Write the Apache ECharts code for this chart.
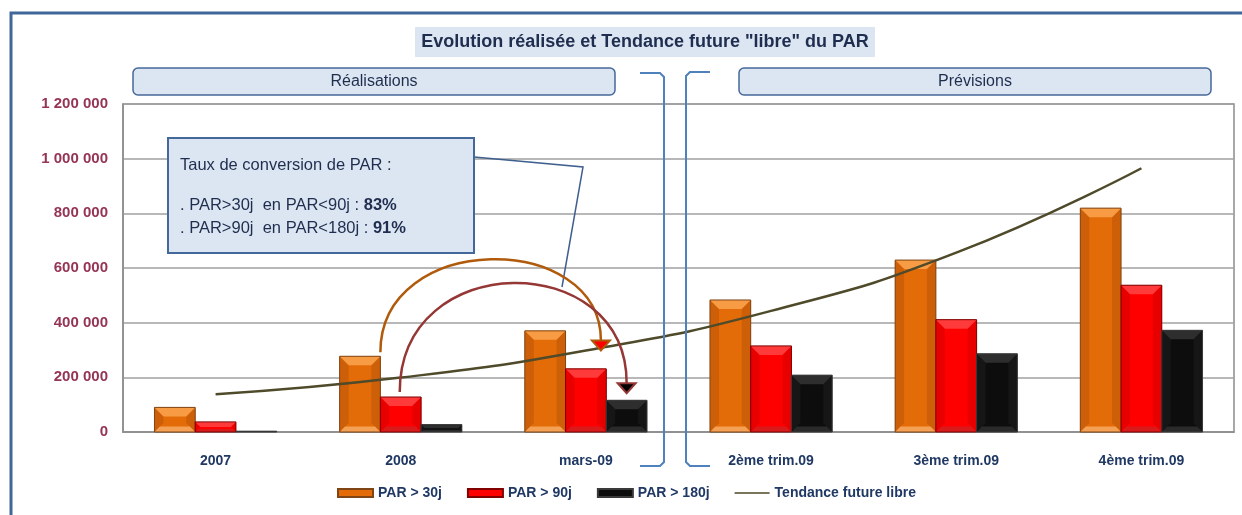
<!DOCTYPE html>
<html>
<head>
<meta charset="utf-8">
<script src="https://cdn.jsdelivr.net/npm/echarts@6/dist/echarts.min.js"></script>
<style>
html,body{margin:0;padding:0;background:#fff;}
#chart{width:1242px;height:515px;}
</style>
</head>
<body>
<div id="chart"></div>
<script>
const categories = ['2007', '2008', 'mars-09', '2ème trim.09', '3ème trim.09', '4ème trim.09'];
const par30 = [90000, 277000, 370000, 483000, 629000, 819000];
const par90 = [37000, 128000, 231000, 315000, 411000, 537000];
const par180 = [3000, 27000, 116000, 208000, 286000, 372000];
const tendance = [138000, 199000, 298000, 443000, 656000, 965000];
const seriesNames = ['PAR > 30j', 'PAR > 90j', 'PAR > 180j', 'Tendance future libre'];

const FONT = "'Liberation Sans', Arial, sans-serif";
const NAVY = '#1F3864';
const CAT_GAP = 0.34;

const palettes = [
  {body:'#E36C09', top:'#F89B45', bottom:'#F4A055', side:'#CC5F07', border:'#7F4515'},
  {body:'#FF0000', top:'#FF3A3A', bottom:'#D81A1A', side:'#E80000', border:'#800000'},
  {body:'#0D0D0D', top:'#2E2E2E', bottom:'#2A2A2A', side:'#161616', border:'#3A3A3A'}
];

function bevelRenderer(k) {
  const pal = palettes[k];
  return function (params, api) {
    const idx = api.value(0);
    const val = api.value(1);
    const base = api.coord([idx, 0]);
    const top = api.coord([idx, val]);
    const catW = api.size([1, 0])[0];
    const bw = catW * (1 - CAT_GAP) / 3;
    const x = base[0] + (k - 1.5) * bw;
    const y = top[1];
    const h = base[1] - top[1];
    const b = Math.max(0, Math.min(9, h / 2, bw / 2));
    const children = [
      {type:'rect', shape:{x:x, y:y, width:bw, height:h}, style:{fill:pal.body}},
      {type:'polygon', shape:{points:[[x,y],[x+b,y+b],[x+b,y+h-b],[x,y+h]]}, style:{fill:pal.side}},
      {type:'polygon', shape:{points:[[x+bw,y],[x+bw-b,y+b],[x+bw-b,y+h-b],[x+bw,y+h]]}, style:{fill:pal.side}},
      {type:'polygon', shape:{points:[[x,y],[x+bw,y],[x+bw-b,y+b],[x+b,y+b]]}, style:{fill:pal.top}},
      {type:'polygon', shape:{points:[[x,y+h],[x+bw,y+h],[x+bw-b*0.6,y+h-b*0.6],[x+b*0.6,y+h-b*0.6]]}, style:{fill:pal.bottom}},
      {type:'rect', shape:{x:x, y:y, width:bw, height:h}, style:{fill:'none', stroke:pal.border, lineWidth:1}}
    ];
    return {type:'group', children:children};
  };
}

const barData = [par30, par90, par180];
const chart = echarts.init(document.getElementById('chart'), null, {renderer:'canvas'});

const LINE_ICON = 'path://M0,0 h0.01 v0.01 h-0.01 Z M0,3.3 H35 V4.7 H0 Z M0,7.99 h0.01 v0.01 h-0.01 Z';

const option = {
  animation: false,
  backgroundColor: '#ffffff',
  grid: {left:123, right:8, top:104, bottom:83, show:true, borderColor:'#8C8C8C', borderWidth:1.5, backgroundColor:'transparent'},
  xAxis: {
    type:'category', data:categories, boundaryGap:true,
    axisTick:{show:false},
    axisLine:{lineStyle:{color:'#8C8C8C', width:1.5}},
    axisLabel:{margin:22, color:NAVY, fontFamily:FONT, fontWeight:'bold', fontSize:14}
  },
  yAxis: {
    type:'value', min:0, max:1200000, interval:200000,
    axisLine:{show:true, lineStyle:{color:'#8C8C8C', width:1.5}},
    axisTick:{show:false},
    splitLine:{lineStyle:{color:'#A0A0A0', width:1.5}},
    axisLabel:{margin:15, color:'#953455', fontFamily:FONT, fontWeight:'bold', fontSize:15,
      formatter: v => String(v).replace(/\B(?=(\d{3})+(?!\d))/g, ' ')}
  },
  legend: {
    left:337, top:486, padding:0, itemWidth:35, itemHeight:8, itemGap:25,
    data:[
      {name:seriesNames[0], icon:'rect'},
      {name:seriesNames[1], icon:'rect'},
      {name:seriesNames[2], icon:'rect'},
      {name:seriesNames[3], icon:LINE_ICON}
    ],
    textStyle:{color:NAVY, fontFamily:FONT, fontWeight:'bold', fontSize:14}
  },
  series: [
    ...barData.map((arr, k) => ({
      name: seriesNames[k], type:'custom', renderItem: bevelRenderer(k),
      itemStyle:{color:palettes[k].body, borderColor:palettes[k].border, borderWidth:1},
      encode:{x:0, y:1},
      data: arr.map((v, i) => [i, v]),
      z: 2
    })),
    {
      name: seriesNames[3], type:'line', data:tendance, smooth:true, symbol:'none', showSymbol:false,
      lineStyle:{color:'#4F4A2A', width:2.5}, itemStyle:{color:'#4F4A2A'}, z:5
    }
  ]
};
chart.setOption(option);

// annotations anchored on the data
const px = (i, v) => chart.convertToPixel({gridIndex:0}, [i, v]);
const c2008 = px(1, par30[1]);
const cMars = px(2, par30[2]);
const catW = cMars[0] - c2008[0];
const bw = catW * (1 - CAT_GAP) / 3;

const oStart = [c2008[0] - 0.5 * bw, c2008[1] - 4];
const oTip = [cMars[0] + 15, px(2, tendance[2])[1]];
const rStart = [c2008[0] - 1, px(1, par90[1])[1] - 5];
const rTip = [cMars[0] + bw, px(2, par180[2])[1] - 7];
const headH = 10, headW = 9;

function arc(start, tip, lift, color) {
  const endY = tip[1] - headH;
  return {
    type:'bezierCurve', z:100,
    shape:{x1:start[0], y1:start[1], cpx1:start[0], cpy1:start[1] - lift, cpx2:tip[0], cpy2:start[1] - lift, x2:tip[0], y2:endY},
    style:{stroke:color, lineWidth:2.5, fill:'none'}
  };
}
function head(tip, fill, stroke) {
  return {
    type:'polygon', z:101,
    shape:{points:[[tip[0]-headW, tip[1]-headH],[tip[0]+headW, tip[1]-headH],[tip[0], tip[1]]]},
    style:{fill:fill, stroke:stroke, lineWidth:2}
  };
}

const BOXFILL = '#DCE6F2';
const BOXSTROKE = '#45689A';
const TXT = '#1F2D4E';
const BRACKET = '#4F81BD';

chart.setOption({
  graphic: [
    // outer frame
    {type:'rect', z:200, shape:{x:11, y:13, width:1320, height:620}, style:{fill:'none', stroke:'#41669A', lineWidth:3}},
    // title
    {type:'rect', z:100, shape:{x:415, y:27, width:460, height:30}, style:{fill:BOXFILL}},
    {type:'text', z:101, x:645, y:42, style:{text:'Evolution réalisée et Tendance future "libre" du PAR', font:"bold 18px " + FONT, fill:TXT, align:'center', verticalAlign:'middle'}},
    // section headers
    {type:'rect', z:100, shape:{x:133, y:68, width:482, height:27, r:5}, style:{fill:BOXFILL, stroke:BOXSTROKE, lineWidth:1.5}},
    {type:'text', z:101, x:374, y:82, style:{text:'Réalisations', font:"16px " + FONT, fill:TXT, align:'center', verticalAlign:'middle'}},
    {type:'rect', z:100, shape:{x:739, y:68, width:472, height:27, r:5}, style:{fill:BOXFILL, stroke:BOXSTROKE, lineWidth:1.5}},
    {type:'text', z:101, x:975, y:82, style:{text:'Prévisions', font:"16px " + FONT, fill:TXT, align:'center', verticalAlign:'middle'}},
    // brackets
    {type:'polyline', z:100, shape:{points:[[640,73],[660,73],[664,77],[664,462],[660,466],[640,466]]}, style:{stroke:BRACKET, lineWidth:2, fill:'none'}},
    {type:'polyline', z:100, shape:{points:[[710,72],[690,72],[686,76],[686,462],[690,466],[710,466]]}, style:{stroke:BRACKET, lineWidth:2, fill:'none'}},
    // callout
    {type:'polyline', z:100, shape:{points:[[474,157],[583,167],[562,287]]}, style:{stroke:'#3F5F8F', lineWidth:1.5, fill:'none'}},
    {type:'rect', z:100, shape:{x:168, y:138, width:306, height:115}, style:{fill:BOXFILL, stroke:BOXSTROKE, lineWidth:2}},
    {type:'text', z:101, x:180, y:165, style:{text:'Taux de conversion de PAR :', font:"16.5px " + FONT, fill:TXT, verticalAlign:'middle'}},
    {type:'text', z:101, x:180, y:205, style:{
      text:'{n|. PAR>30j  en PAR<90j : }{b|83%}', verticalAlign:'middle',
      rich:{n:{font:"16.5px " + FONT, fill:TXT}, b:{font:"bold 16.5px " + FONT, fill:TXT}}}},
    {type:'text', z:101, x:180, y:228, style:{
      text:'{n|. PAR>90j  en PAR<180j : }{b|91%}', verticalAlign:'middle',
      rich:{n:{font:"16.5px " + FONT, fill:TXT}, b:{font:"bold 16.5px " + FONT, fill:TXT}}}},
    // conversion arrows
    arc(oStart, oTip, 122, '#B05A0C'),
    head(oTip, '#FF0000', '#B05A0C'),
    arc(rStart, rTip, 144, '#953735'),
    head(rTip, '#000000', '#953735')
  ]
});
</script>
</body>
</html>
